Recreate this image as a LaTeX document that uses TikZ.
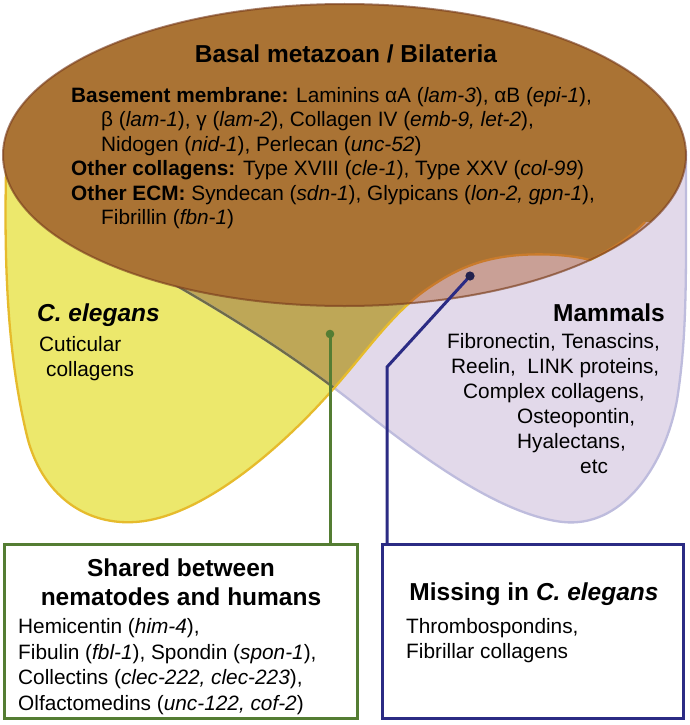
\documentclass[tikz,border=0pt]{standalone}
\usepackage{fontspec}
\setmainfont{Liberation Sans}
\definecolor{yel}{HTML}{ECE86C}
\definecolor{yelline}{HTML}{E6BB2C}
\definecolor{lav}{HTML}{E2D9EA}
\definecolor{lavline}{HTML}{BEBCDD}
\definecolor{olivefill}{HTML}{BEA757}
\definecolor{oliveline}{HTML}{6E6B48}
\definecolor{brownfill}{HTML}{AA7334}
\definecolor{pinkfill}{HTML}{C9A096}
\definecolor{bumpline}{HTML}{C97B2C}
\definecolor{ellline}{HTML}{7A3E1E}
\definecolor{grn}{HTML}{547D33}
\definecolor{navy}{HTML}{2B2B84}
\definecolor{navydot}{HTML}{22224E}
\def\YelBump{(335,387) .. controls (370,347) and (395,310) .. (430,287) .. controls (455,270) and (480,258) .. (520,255) .. controls (550,253) and (575,256) .. (590,260) .. controls (610,250) and (630,238) .. (645,222)}
\def\YelPath{(6,172) .. controls (4,270) and (8,360) .. (28,440) .. controls (45,500) and (90,525) .. (135,522) .. controls (200,518) and (280,450) .. \YelBump -- (660,150) -- (600,100) -- (344,20) -- (60,100) -- (10,160) -- cycle}
\def\PurPath{(140,265) .. controls (230,315) and (300,360) .. (360,408) .. controls (420,456) and (500,515) .. (563,522) .. controls (620,528) and (664,470) .. (677,400) .. controls (685,350) and (686,300) .. (686,240) -- (686,152) -- (600,130) -- cycle}
\def\EllPath{(344.5,155) ellipse [x radius=341.5pt, y radius=151pt]}
\begin{document}
\begin{tikzpicture}[x=1pt,y=-1pt,
  body/.style={font=\fontsize{20.8}{25}\selectfont, inner sep=0pt, anchor=base west},
  head/.style={font=\fontsize{24.5}{29}\selectfont\bfseries, inner sep=0pt},
  shapeline/.style={line width=2.3pt},
  boxline/.style={line width=3pt, inner sep=0pt, minimum height=174pt},
  conn/.style={line width=3pt}]
\useasboundingbox[fill=white] (0,0) rectangle (689,725);
% Venn shapes
\fill[lav] \PurPath;
\fill[yel] \YelPath;
\begin{scope}
  \clip \YelPath;
  \fill[olivefill] \PurPath;
\end{scope}
\draw[lavline, shapeline] \PurPath;
\begin{scope}
  \clip \YelPath;
  \draw[oliveline, shapeline] \PurPath;
\end{scope}
\draw[yelline, shapeline] \YelPath;
\fill[brownfill] \EllPath;
\begin{scope}
  \clip \EllPath;
  \clip \PurPath;
  \fill[pinkfill] \YelBump -- (700,222) -- (700,420) -- (335,420) -- cycle;
\end{scope}
\begin{scope}
  \clip \EllPath;
  \draw[bumpline, shapeline] \YelBump;
\end{scope}
\draw[ellline, opacity=0.65, line width=2pt] \EllPath;
% ellipse text
\node[head, anchor=base] (title) at (346,63) {Basal metazoan / Bilateria};
\node[body] (bm1) at (71,102) {\textbf{Basement membrane:} Laminins αA (\textit{lam-3}), αB (\textit{epi-1}),};
\node[body] (bm2) at (101,126.5) {β (\textit{lam-1}), γ (\textit{lam-2}), Collagen IV (\textit{emb-9, let-2}),};
\node[body] (bm3) at (101,151) {Nidogen (\textit{nid-1}), Perlecan (\textit{unc-52})};
\node[body] (oc) at (71,175.5) {\textbf{Other collagens:} Type XVIII (\textit{cle-1}), Type XXV (\textit{col-99})};
\node[body] (oe1) at (71,200) {\textbf{Other ECM:} Syndecan (\textit{sdn-1}), Glypicans (\textit{lon-2, gpn-1}),};
\node[body] (oe2) at (101,224.5) {Fibrillin (\textit{fbn-1})};
% C. elegans
\node[head, anchor=base west] (cel) at (37,321.5) {\textit{C. elegans}};
\node[body] (cut1) at (39,351) {Cuticular};
\node[body] (cut2) at (46,376) {collagens};
% Mammals
\node[head, anchor=base west] (mam) at (553,321.5) {Mammals};
\node[body] (m1) at (447,348) {Fibronectin, Tenascins,};
\node[body] (m2) at (451,373) {Reelin,\ \ LINK proteins,};
\node[body] (m3) at (463,398) {Complex collagens,};
\node[body] (m4) at (517,423) {Osteopontin,};
\node[body] (m5) at (517,448) {Hyalectans,};
\node[body] (m6) at (580,473) {etc};
% boxes
\node[draw=grn, boxline, minimum width=353pt] (gbox) at (181,631.5) {};
\node[draw=navy, boxline, minimum width=301pt] (nbox) at (533,631.5) {};
% connectors
\coordinate (gdot) at (330,334);
\coordinate (ndot) at (470,276);
\coordinate (nbend) at (387,367);
\draw[grn, conn] (gdot) -- (gdot |- gbox.north);
\draw[navy, conn] (ndot) -- (nbend) -- (nbend |- nbox.north);
\fill[grn] (gdot) circle (4.3pt);
\fill[navydot] (ndot) circle (4.6pt);
% box texts
\node[head, anchor=base] (sh1) at (181,576) {Shared between};
\node[head, anchor=base] (sh2) at (181,605) {nematodes and humans};
\node[body] (s1) at (18,633) {Hemicentin (\textit{him-4}),};
\node[body] (s2) at (18,659) {Fibulin (\textit{fbl-1}), Spondin (\textit{spon-1}),};
\node[body] (s3) at (18,684.5) {Collectins (\textit{clec-222, clec-223}),};
\node[body] (s4) at (18,710) {Olfactomedins (\textit{unc-122, cof-2})};
\node[head, anchor=base] (mi) at (534,600) {Missing in \textit{C. elegans}};
\node[body] (t1) at (406,633) {Thrombospondins,};
\node[body] (t2) at (406,658) {Fibrillar collagens};
\end{tikzpicture}
\end{document}
